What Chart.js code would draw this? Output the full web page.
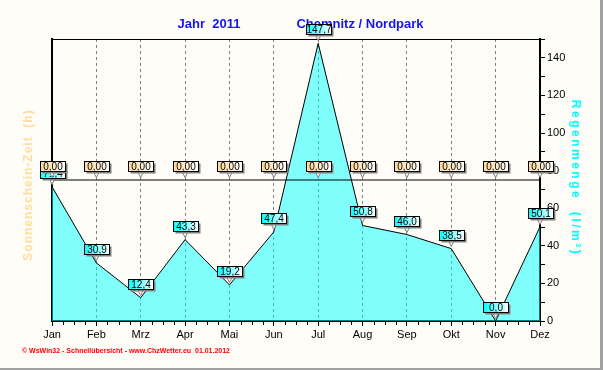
<!DOCTYPE html>
<html>
<head>
<meta charset="utf-8">
<script src="https://cdn.jsdelivr.net/npm/chart.js@4"></script>
<style>
  html, body { margin: 0; padding: 0; background: #fffdf7; }
  canvas { display: block; }
</style>
</head>
<body>
<canvas id="myChart" width="603" height="370"></canvas>
<script>
// Jahr 2011, Chemnitz / Nordpark
const months = ['Jan', 'Feb', 'Mrz', 'Apr', 'Mai', 'Jun', 'Jul', 'Aug', 'Sep', 'Okt', 'Nov', 'Dez'];
const rain = [71.4, 30.9, 12.4, 43.3, 19.2, 47.4, 147.7, 50.8, 46.0, 38.5, 0.0, 50.1]; // l/m²
const sunshine = [0, 0, 0, 0, 0, 0, 0, 0, 0, 0, 0, 0]; // h
const rainTickLabels = [0, 20, 40, 60, 80, 100, 120, 140];

Chart.defaults.font.family = "'Liberation Sans', Arial, sans-serif";
Chart.defaults.color = '#000';

function fmt(v, digits) {
  return v.toFixed(digits).replace('.', ',');
}

// little value boxes like WsWin draws them
function drawValueBox(ctx, x, y, text, color) {
  const w = 25, h = 10;
  const left = Math.round(x - w / 2) + 0.5;
  const top = Math.round(y - 9 - h) + 0.5;
  // pointer
  ctx.beginPath();
  ctx.moveTo(x - 3, top + h);
  ctx.lineTo(x, top + h + 6);
  ctx.lineTo(x + 3, top + h);
  ctx.closePath();
  ctx.fillStyle = '#fff';
  ctx.fill();
  ctx.strokeStyle = '#808080';
  ctx.lineWidth = 1;
  ctx.stroke();
  // shadow
  ctx.fillStyle = '#808080';
  ctx.fillRect(left + 2, top + 2, w, h);
  const grad = ctx.createLinearGradient(left, 0, left + w, 0);
  grad.addColorStop(0, color);
  grad.addColorStop(1, '#ffffff');
  ctx.fillStyle = grad;
  ctx.fillRect(left, top, w, h);
  ctx.strokeStyle = '#000';
  ctx.strokeRect(left, top, w, h);
  ctx.fillStyle = '#000';
  ctx.font = "10px 'Liberation Sans', Arial, sans-serif";
  ctx.textAlign = 'center';
  ctx.textBaseline = 'middle';
  ctx.fillText(text, left + w / 2, top + h / 2 + 0.5);
}

const decoPlugin = {
  id: 'deco',
  beforeDraw(chart) {
    const ctx = chart.ctx;
    ctx.save();
    ctx.fillStyle = '#fffdf7';
    ctx.fillRect(0, 0, chart.width, chart.height);
    ctx.restore();
  },
  afterDatasetsDraw(chart) {
    const ctx = chart.ctx;
    const area = chart.chartArea;
    const xScale = chart.scales.x;
    ctx.save();

    // top frame line
    ctx.strokeStyle = '#000';
    ctx.lineWidth = 1;
    ctx.beginPath();
    ctx.moveTo(area.left, area.top + 0.5);
    ctx.lineTo(area.right, area.top + 0.5);
    ctx.stroke();

    // minor ticks on x axis
    ctx.beginPath();
    for (let i = 0; i < months.length - 1; i++) {
      const x0 = xScale.getPixelForTick(i);
      const x1 = xScale.getPixelForTick(i + 1);
      for (let k = 1; k < 4; k++) {
        const x = Math.round(x0 + (x1 - x0) * k / 4) + 0.5;
        ctx.moveTo(x, area.bottom);
        ctx.lineTo(x, area.bottom + 4);
      }
    }
    ctx.stroke();
    ctx.restore();
  },
  afterDraw(chart) {
    const ctx = chart.ctx;
    ctx.save();

    // title
    ctx.fillStyle = '#1414f0';
    ctx.font = "bold 13px 'Liberation Sans', Arial, sans-serif";
    ctx.textAlign = 'center';
    ctx.textBaseline = 'alphabetic';
    ctx.fillText('Jahr  2011', 209, 28);
    ctx.fillText('Chemnitz / Nordpark', 360, 28);

    // left axis title
    ctx.save();
    ctx.translate(29, 185);
    ctx.rotate(-Math.PI / 2);
    ctx.fillStyle = '#ffdca0';
    ctx.font = "bold 12px 'Liberation Sans', Arial, sans-serif";
    ctx.letterSpacing = '1px';
    ctx.textBaseline = 'middle';
    ctx.fillText('Sonnenschein-Zeit  (h)', 0, 0);
    ctx.restore();

    // right axis title
    ctx.save();
    ctx.translate(575, 178);
    ctx.rotate(Math.PI / 2);
    ctx.fillStyle = '#00ffff';
    ctx.font = "bold 12px 'Liberation Sans', Arial, sans-serif";
    ctx.letterSpacing = '2.5px';
    ctx.textBaseline = 'middle';
    ctx.fillText('Regenmenge  (l/m³)', 0, 0);
    ctx.restore();

    // value boxes: rain first, sunshine on top
    const rainMeta = chart.getDatasetMeta(1);
    rainMeta.data.forEach((pt, i) => drawValueBox(ctx, pt.x, pt.y, fmt(rain[i], 1), '#00ffff'));
    const sunMeta = chart.getDatasetMeta(0);
    sunMeta.data.forEach((pt, i) => drawValueBox(ctx, pt.x, pt.y, fmt(sunshine[i], 2), '#ffd89a'));

    // footer
    ctx.fillStyle = '#ff0000';
    ctx.font = "bold 8px 'Liberation Sans', Arial, sans-serif";
    ctx.textAlign = 'left';
    ctx.textBaseline = 'middle';
    ctx.fillText('© WsWin32 - Schnellübersicht - www.ChzWetter.eu  01.01.2012', 22, 351, 208);

    // window frame
    ctx.fillStyle = '#a0a0a0';
    ctx.fillRect(600, 0, 3, chart.height);
    ctx.fillRect(0, 368, chart.width, 2);
    ctx.restore();
  }
};

document.addEventListener('DOMContentLoaded', () => {
  const ctx = document.getElementById('myChart').getContext('2d');
  const myChart = new Chart(ctx, {
    type: 'line',
    data: {
      labels: months,
      datasets: [{
        label: 'Sonnenschein-Zeit',
        data: sunshine,
        yAxisID: 'ySun',
        borderColor: '#000',
        borderWidth: 1,
        pointRadius: 0,
        fill: false,
        tension: 0
      }, {
        label: 'Regenmenge',
        data: rain,
        yAxisID: 'y',
        borderColor: '#000',
        borderWidth: 1,
        backgroundColor: 'rgba(0, 255, 255, 0.5)',
        pointRadius: 0,
        fill: 'origin',
        tension: 0
      }]
    },
    options: {
      responsive: false,
      animation: false,
      layout: { padding: { top: 39, left: 0, right: 0, bottom: 0 } },
      plugins: {
        legend: { display: false },
        title: { display: false },
        tooltip: { enabled: false }
      },
      scales: {
        x: {
          offset: false,
          grid: {
            color: '#808080',
            tickColor: '#000',
            tickLength: 5,
            tickBorderDash: []
          },
          border: { display: true, color: '#000', width: 2, dash: [3, 3] },
          ticks: { padding: 2, font: { size: 11 }, maxRotation: 0, autoSkip: false },
          afterFit: (scale) => { scale.height = 49; }
        },
        ySun: {
          position: 'left',
          min: -75,
          max: 75,
          grid: { display: false },
          border: { display: true, color: '#000', width: 2 },
          ticks: { display: false },
          afterFit: (scale) => { scale.width = 52; }
        },
        y: {
          position: 'right',
          min: 0,
          max: 150,
          grid: { drawOnChartArea: false, color: '#000', tickLength: 5 },
          border: { display: true, color: '#000', width: 2 },
          ticks: {
            stepSize: 10,
            padding: 2,
            font: { size: 11 },
            callback: (v) => rainTickLabels.includes(v) ? String(v) : ''
          },
          afterFit: (scale) => { scale.width = 63; }
        }
      }
    },
    plugins: [decoPlugin]
  });
});
</script>
</body>
</html>
